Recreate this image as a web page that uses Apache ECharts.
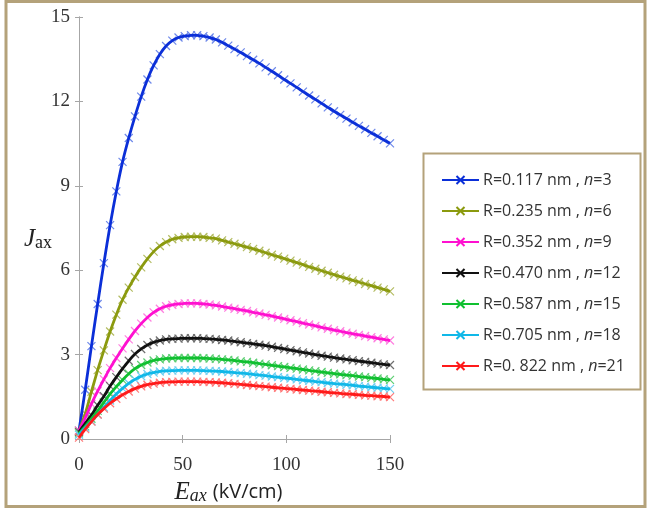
<!DOCTYPE html>
<html>
<head>
<meta charset="utf-8">
<script src="https://cdn.jsdelivr.net/npm/echarts@6/dist/echarts.min.js"></script>
<style>
  html, body { margin: 0; padding: 0; background: #fff; }
  #chart { width: 650px; height: 513px; }
</style>
</head>
<body>
<div id="chart"></div>
<script>
// E_ax (kV/cm), one marker every 3 kV/cm
const eField = [0, 3, 6, 9, 12, 15, 18, 21, 24, 27, 30, 33, 36, 39, 42, 45, 48, 51, 54, 57, 60,
    63, 66, 69, 72, 75, 78, 81, 84, 87, 90, 93, 96, 99, 102, 105, 108, 111, 114, 117, 120,
    123, 126, 129, 132, 135, 138, 141, 144, 147, 150];

// J_ax
const jN3 = [0.3, 1.75, 3.3, 4.8, 6.25, 7.6, 8.8, 9.85, 10.7, 11.47, 12.17, 12.78, 13.28, 13.68, 13.97, 14.16, 14.27, 14.32, 14.35, 14.35, 14.32,
    14.27, 14.2, 14.1, 13.98, 13.86, 13.74, 13.61, 13.48, 13.35, 13.21, 13.07, 12.93, 12.78, 12.64, 12.5, 12.35, 12.21, 12.07, 11.93, 11.79,
    11.65, 11.52, 11.39, 11.26, 11.13, 11.01, 10.88, 10.76, 10.63, 10.51];
const jN6 = [0.3, 0.9, 1.68, 2.45, 3.15, 3.82, 4.42, 4.95, 5.38, 5.76, 6.1, 6.4, 6.66, 6.86, 7.0, 7.1, 7.15, 7.18, 7.19, 7.19, 7.18,
    7.15, 7.12, 7.06, 7.0, 6.94, 6.88, 6.82, 6.76, 6.69, 6.62, 6.55, 6.48, 6.41, 6.34, 6.27, 6.2, 6.12, 6.05, 5.98, 5.91,
    5.84, 5.77, 5.71, 5.64, 5.58, 5.51, 5.45, 5.38, 5.32, 5.25];
const jN9 = [0.3, 0.75, 1.25, 1.7, 2.12, 2.52, 2.88, 3.22, 3.54, 3.84, 4.1, 4.32, 4.5, 4.63, 4.72, 4.77, 4.8, 4.82, 4.82, 4.82, 4.8,
    4.78, 4.75, 4.71, 4.67, 4.63, 4.59, 4.55, 4.5, 4.46, 4.41, 4.37, 4.32, 4.27, 4.22, 4.17, 4.12, 4.07, 4.02, 3.97, 3.92,
    3.87, 3.83, 3.78, 3.74, 3.7, 3.66, 3.62, 3.58, 3.54, 3.5];
const jN12 = [0.25, 0.55, 0.85, 1.2, 1.52, 1.88, 2.2, 2.5, 2.78, 3.02, 3.2, 3.34, 3.44, 3.5, 3.54, 3.56, 3.57, 3.58, 3.58, 3.58, 3.57,
    3.56, 3.54, 3.52, 3.5, 3.47, 3.44, 3.41, 3.38, 3.35, 3.32, 3.28, 3.24, 3.2, 3.16, 3.12, 3.08, 3.04, 3.0, 2.96, 2.93,
    2.89, 2.86, 2.83, 2.8, 2.77, 2.74, 2.71, 2.68, 2.65, 2.63];
const jN15 = [0.2, 0.45, 0.72, 1.0, 1.3, 1.6, 1.86, 2.1, 2.32, 2.5, 2.63, 2.72, 2.79, 2.83, 2.86, 2.87, 2.88, 2.88, 2.88, 2.88, 2.87,
    2.86, 2.85, 2.83, 2.81, 2.79, 2.76, 2.74, 2.71, 2.68, 2.65, 2.62, 2.59, 2.56, 2.53, 2.5, 2.47, 2.44, 2.41, 2.38, 2.35,
    2.32, 2.3, 2.27, 2.25, 2.22, 2.2, 2.17, 2.15, 2.12, 2.1];
const jN18 = [0.15, 0.4, 0.63, 0.87, 1.12, 1.37, 1.6, 1.8, 1.98, 2.12, 2.23, 2.31, 2.36, 2.4, 2.42, 2.43, 2.44, 2.44, 2.44, 2.44, 2.43,
    2.42, 2.41, 2.4, 2.38, 2.36, 2.34, 2.32, 2.3, 2.27, 2.25, 2.22, 2.2, 2.17, 2.15, 2.12, 2.09, 2.07, 2.04, 2.02, 1.99,
    1.97, 1.95, 1.93, 1.91, 1.88, 1.86, 1.84, 1.82, 1.8, 1.78];
const jN21 = [0.05, 0.35, 0.62, 0.87, 1.08, 1.27, 1.43, 1.57, 1.69, 1.79, 1.87, 1.93, 1.97, 2.0, 2.02, 2.03, 2.04, 2.04, 2.04, 2.04, 2.03,
    2.02, 2.01, 2.0, 1.98, 1.96, 1.94, 1.92, 1.9, 1.88, 1.86, 1.84, 1.82, 1.8, 1.78, 1.76, 1.74, 1.72, 1.7, 1.68, 1.66,
    1.64, 1.62, 1.6, 1.59, 1.57, 1.55, 1.54, 1.52, 1.51, 1.49];

const seriesNames = ['R=0.117 nm , n=3', 'R=0.235 nm , n=6', 'R=0.352 nm , n=9', 'R=0.470 nm , n=12',
    'R=0.587 nm , n=15', 'R=0.705 nm , n=18', 'R=0. 822 nm , n=21'];
const seriesValues = [jN3, jN6, jN9, jN12, jN15, jN18, jN21];
const lineColors = ['#0b2fd8', '#8b9a0e', '#ff10d0', '#111111', '#10c030', '#10b8e8', '#ff1a1a'];
const markColors = ['#6d88ea', '#b3bc62', '#ff80e0', '#6e6e6e', '#5ccf72', '#70d0f2', '#ff7a7a'];

const xTicks = { min: 0, max: 150, interval: 50 };
const yTicks = { min: 0, max: 15, interval: 3 };

const chart = echarts.init(document.getElementById('chart'));
const frameColor = '#b4a27a';
const axisGray = '#a6a6a6';
const crossPath = 'path://M0 0L10 10M0 10L10 0';

const series = [];
seriesNames.forEach((name, i) => {
    const pts = eField.map((e, k) => [e, seriesValues[i][k]]);
    // light cross markers, drawn under the curve
    series.push({
        name: 'marks' + i,
        type: 'line',
        data: pts,
        z: 1,
        symbol: crossPath,
        symbolSize: 8,
        showAllSymbol: true,
        lineStyle: { width: 0, opacity: 0 },
        itemStyle: { color: markColors[i], borderColor: markColors[i], borderWidth: 1.2 },
        emphasis: { disabled: true },
        silent: true,
    });
    series.push({
        name: name,
        type: 'line',
        data: pts,
        z: 2,
        smooth: 0.3,
        symbol: crossPath,
        symbolSize: 7,
        showSymbol: false,
        lineStyle: { color: lineColors[i], width: 2.8 },
        itemStyle: { color: lineColors[i], borderColor: lineColors[i], borderWidth: 1.3 },
        emphasis: { disabled: true },
    });
});

const option = {
    backgroundColor: '#fff',
    animation: false,
    grid: { left: 79, right: 260, top: 17, bottom: 74 },
    xAxis: [
        {
            type: 'value',
            min: xTicks.min,
            max: xTicks.max,
            interval: xTicks.interval,
            axisLine: { lineStyle: { color: axisGray } },
            axisTick: { inside: true, length: 4, lineStyle: { color: axisGray } },
            splitLine: { show: false },
            axisLabel: {
                margin: 17,
                color: '#333',
                fontFamily: 'Liberation Serif',
                fontSize: 19,
            },
            name: '{e|E}{s|ax}{g| }{u|(kV/cm)}',
            nameLocation: 'middle',
            nameGap: 39,
            nameTextStyle: {
                padding: [0, 12, 0, 0],
                rich: {
                    e: { fontFamily: 'Liberation Serif', fontStyle: 'italic', fontSize: 25, color: '#222' },
                    s: { fontFamily: 'Liberation Serif', fontStyle: 'italic', fontSize: 18, color: '#222', verticalAlign: 'bottom' },
                    g: { fontSize: 12, width: 6 },
                    u: { fontFamily: 'Open Sans', fontSize: 20, color: '#222' },
                },
            },
        },
        {
            type: 'value',
            position: 'top',
            min: xTicks.min,
            max: xTicks.max,
            interval: xTicks.interval,
            axisLine: { lineStyle: { color: axisGray } },
            axisTick: { inside: true, length: 4, lineStyle: { color: axisGray } },
            axisLabel: { show: false },
            splitLine: { show: false },
        },
    ],
    yAxis: [
        {
            type: 'value',
            min: yTicks.min,
            max: yTicks.max,
            interval: yTicks.interval,
            axisLine: { show: true, lineStyle: { color: axisGray } },
            axisTick: { show: true, inside: true, length: 4, lineStyle: { color: axisGray } },
            splitLine: { show: false },
            axisLabel: {
                margin: 9,
                color: '#333',
                fontFamily: 'Liberation Serif',
                fontSize: 19,
            },
        },
        {
            type: 'value',
            position: 'right',
            min: yTicks.min,
            max: yTicks.max,
            interval: yTicks.interval,
            axisLine: { show: true, lineStyle: { color: axisGray } },
            axisTick: { show: true, inside: true, length: 4, lineStyle: { color: axisGray } },
            axisLabel: { show: false },
            splitLine: { show: false },
        },
    ],
    legend: {
        orient: 'vertical',
        left: 441,
        top: 172,
        padding: 0,
        itemWidth: 37,
        itemHeight: 10,
        itemGap: 15,
        selectedMode: false,
        data: seriesNames,
        formatter: name => name.replace(' n=', ' {i|n}='),
        textStyle: {
            fontFamily: 'Open Sans',
            fontSize: 16,
            color: '#333',
            padding: [0, 0, 0, -1],
            rich: {
                i: { fontFamily: 'Open Sans', fontSize: 16, fontStyle: 'italic', color: '#333' },
            },
        },
    },
    graphic: [
        {
            type: 'rect',
            shape: { x: 6, y: 1.5, width: 639, height: 505 },
            style: { fill: 'none', stroke: frameColor, lineWidth: 3 },
            silent: true,
        },
        {
            type: 'rect',
            shape: { x: 423.5, y: 153.5, width: 217, height: 236 },
            style: { fill: 'none', stroke: frameColor, lineWidth: 2 },
            silent: true,
        },
        {
            type: 'text',
            left: 24,
            top: 227,
            style: {
                text: '{j|J}{s|ax}',
                rich: {
                    j: { fontFamily: 'Liberation Serif', fontStyle: 'italic', fontSize: 25, fill: '#222' },
                    s: { fontFamily: 'Liberation Serif', fontSize: 18, fill: '#222', verticalAlign: 'bottom' },
                },
            },
        },
    ],
    series: series,
};

chart.setOption(option);
window.addEventListener('resize', () => chart.resize());
</script>
</body>
</html>
